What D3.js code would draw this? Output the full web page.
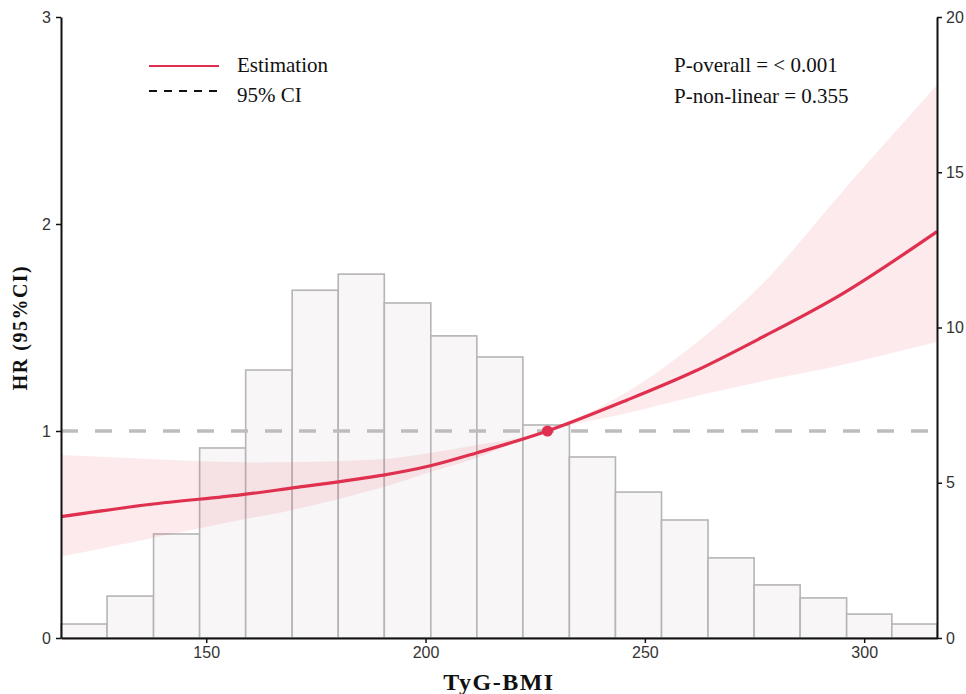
<!DOCTYPE html>
<html>
<head>
<meta charset="utf-8">
<script src="https://cdn.jsdelivr.net/npm/d3@7/dist/d3.min.js"></script>
<style>
  html, body { margin: 0; padding: 0; background: #fff; }
  svg { display: block; }
</style>
</head>
<body>
<div id="chart"></div>
<script>
// --- data ---
// spline estimate (HR) and 95% CI at sampled TyG-BMI values
const xVals  = [116.9, 137.0, 157.8, 169.7, 190.4, 201.1, 211.6, 227.8, 246.0, 261.1, 276.3, 295.2, 316.6];
const hrEst  = [0.586, 0.645, 0.691, 0.725, 0.787, 0.832, 0.894, 1.000, 1.150, 1.286, 1.448, 1.665, 1.963];
const hrUp   = [0.884, 0.865, 0.849, 0.850, 0.865, 0.894, 0.932, 1.000, 1.190, 1.415, 1.700, 2.160, 2.671];
const hrLow  = [0.393, 0.480, 0.570, 0.618, 0.729, 0.802, 0.870, 1.000, 1.087, 1.166, 1.238, 1.320, 1.431];
const refX = 227.8;

// histogram (right axis, percent)
const binEdges = [116.9, 127.4, 138.0, 148.5, 159.0, 169.6, 180.1, 190.6, 201.2, 211.7, 222.2,
                  232.8, 243.3, 253.8, 264.4, 274.9, 285.4, 296.0, 306.3, 316.6];
const binCounts = [0.45, 1.35, 3.35, 6.12, 8.63, 11.2, 11.72, 10.79, 9.73, 9.05,
                   6.86, 5.83, 4.70, 3.80, 2.58, 1.71, 1.29, 0.77, 0.45];

const xTicks = [150, 200, 250, 300];
const yLeftTicks = [0, 1, 2, 3];
const yRightTicks = [0, 5, 10, 15, 20];

const legendItems = ["Estimation", "95% CI"];
const pTexts = ["P-overall = < 0.001", "P-non-linear = 0.355"];

(() => {
  // --- layout ---
  const W = 966, H = 694;
  const pL = 61, pR = 937, pT = 17, pB = 638;
  const red = "#e0304f";
  const serif = '"Liberation Serif", "Times New Roman", serif';
  const sans = '"Liberation Sans", Arial, sans-serif';

  const svg = d3.select("#chart").append("svg")
    .attr("width", W).attr("height", H);

  const x = d3.scaleLinear().domain([116.9, 316.6]).range([pL, pR]);
  const yL = d3.scaleLinear().domain([0, 3]).range([pB, pT]);
  const yR = d3.scaleLinear().domain([0, 20]).range([pB, pT]);

  // histogram bars
  const bins = binCounts.map((c, i) => ({ x0: binEdges[i], x1: binEdges[i + 1], c }));
  svg.append("g").selectAll("rect")
    .data(bins).enter().append("rect")
    .attr("x", d => x(d.x0))
    .attr("y", d => yR(d.c))
    .attr("width", d => x(d.x1) - x(d.x0))
    .attr("height", d => yR(0) - yR(d.c))
    .attr("fill", "#f8f6f7")
    .attr("stroke", "#b5b5b5")
    .attr("stroke-width", 1.6);

  // reference line HR = 1
  svg.append("line")
    .attr("x1", pL).attr("x2", pR)
    .attr("y1", yL(1)).attr("y2", yL(1))
    .attr("stroke", "#bdbdbd")
    .attr("stroke-width", 3.5)
    .attr("stroke-dasharray", "17,17");

  const pts = xVals.map((v, i) => ({ x: v, e: hrEst[i], u: hrUp[i], l: hrLow[i] }));
  const curve = d3.curveCatmullRom.alpha(0.5);

  // CI band
  svg.append("path")
    .datum(pts)
    .attr("d", d3.area()
      .x(d => x(d.x))
      .y0(d => yL(d.l))
      .y1(d => yL(d.u))
      .curve(curve))
    .attr("fill", "rgba(228, 90, 110, 0.13)");

  // estimate line
  svg.append("path")
    .datum(pts)
    .attr("d", d3.line()
      .x(d => x(d.x))
      .y(d => yL(d.e))
      .curve(curve))
    .attr("fill", "none")
    .attr("stroke", red)
    .attr("stroke-width", 3.2);

  // reference point
  svg.append("circle")
    .attr("cx", x(refX)).attr("cy", yL(1)).attr("r", 5.5)
    .attr("fill", red);

  // axes
  const styleAxis = g => {
    g.select(".domain").attr("stroke", "#111").attr("stroke-width", 2);
    g.selectAll(".tick line").attr("stroke", "#111").attr("stroke-width", 1.5);
    g.selectAll(".tick text")
      .attr("fill", "#333")
      .style("font-family", sans)
      .style("font-size", "16px");
  };

  svg.append("g")
    .attr("transform", `translate(0,${pB})`)
    .call(d3.axisBottom(x).tickValues(xTicks).tickSize(5).tickPadding(4).tickSizeOuter(0))
    .call(styleAxis);

  svg.append("g")
    .attr("transform", `translate(${pL},0)`)
    .call(d3.axisLeft(yL).tickValues(yLeftTicks).tickFormat(d3.format("d"))
      .tickSize(5).tickPadding(5).tickSizeOuter(0))
    .call(styleAxis);

  svg.append("g")
    .attr("transform", `translate(${pR},0)`)
    .call(d3.axisRight(yR).tickValues(yRightTicks).tickSize(5).tickPadding(4).tickSizeOuter(0))
    .call(styleAxis);

  // axis titles
  svg.append("text")
    .attr("x", (pL + pR) / 2).attr("y", 690)
    .attr("text-anchor", "middle")
    .style("font-family", serif).style("font-weight", "bold")
    .style("font-size", "24px").style("letter-spacing", "1.5px")
    .attr("fill", "#111")
    .text("TyG-BMI");

  svg.append("text")
    .attr("transform", `translate(27,${(pT + pB) / 2}) rotate(-90)`)
    .attr("text-anchor", "middle")
    .style("font-family", serif).style("font-weight", "bold")
    .style("font-size", "20px").style("letter-spacing", "1.5px")
    .attr("fill", "#111")
    .text("HR (95%CI)");

  // legend
  const lg = svg.append("g");
  lg.append("line")
    .attr("x1", 149).attr("x2", 219).attr("y1", 66).attr("y2", 66)
    .attr("stroke", red).attr("stroke-width", 2);
  lg.append("line")
    .attr("x1", 149).attr("x2", 219).attr("y1", 91).attr("y2", 91)
    .attr("stroke", "#111").attr("stroke-width", 2)
    .attr("stroke-dasharray", "8,7");
  lg.selectAll("text.lab")
    .data(legendItems).enter().append("text")
    .attr("class", "lab")
    .attr("x", 237).attr("y", (d, i) => 72 + i * 30)
    .style("font-family", serif).style("font-size", "21px")
    .attr("fill", "#111")
    .text(d => d);

  svg.selectAll("text.p")
    .data(pTexts).enter().append("text")
    .attr("class", "p")
    .attr("x", 674).attr("y", (d, i) => 72 + i * 31)
    .style("font-family", serif).style("font-size", "21px")
    .attr("fill", "#111")
    .text(d => d);
})();
</script>
</body>
</html>
